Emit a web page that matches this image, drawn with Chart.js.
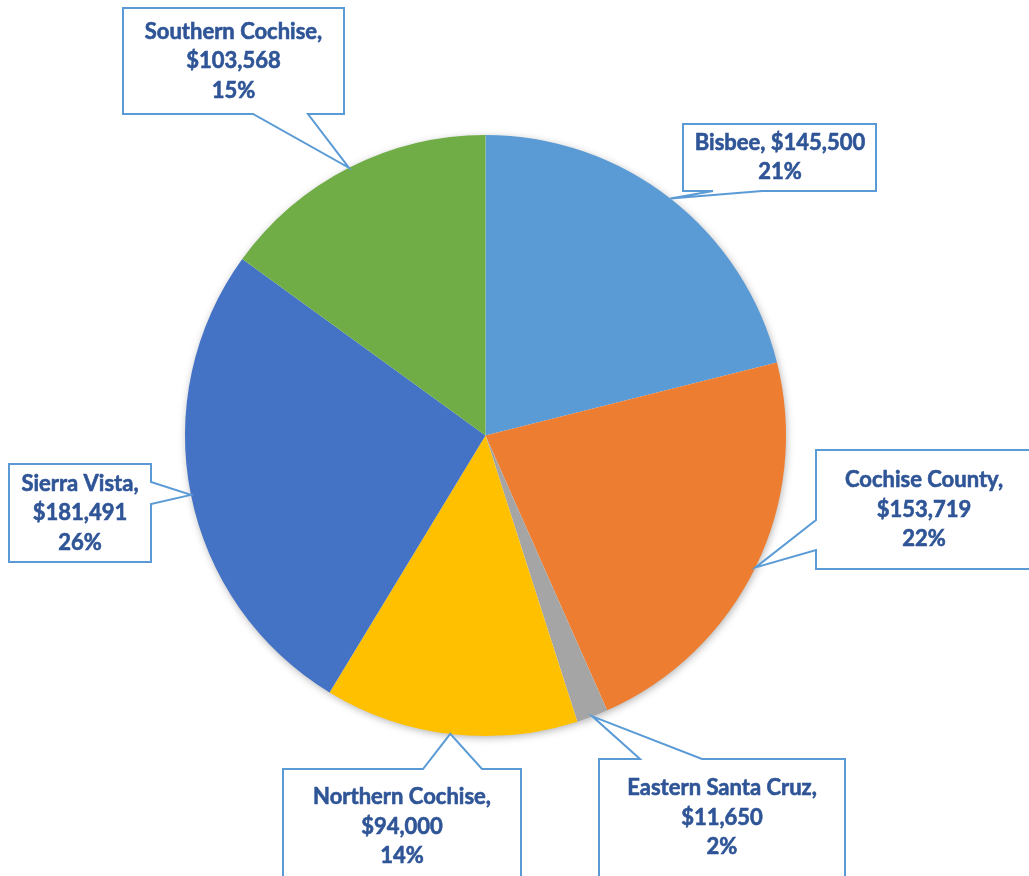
<!DOCTYPE html>
<html>
<head>
<meta charset="utf-8">
<script src="https://cdn.jsdelivr.net/npm/chart.js@4"></script>
<style>
  html, body { margin: 0; padding: 0; background: #fff; }
  #wrap { width: 1029px; height: 876px; position: relative; }
</style>
</head>
<body>
<div id="wrap"><canvas id="myChart" width="1029" height="876"></canvas></div>
<script>
const regions = ['Bisbee', 'Cochise County', 'Eastern Santa Cruz', 'Northern Cochise', 'Sierra Vista', 'Southern Cochise'];
const amounts = [145500, 153719, 11650, 94000, 181491, 103568];
const sliceColors = ['#5B9BD5', '#ED7D31', '#A5A5A5', '#FFC000', '#4472C4', '#70AD47'];

// callout boxes: [left, top, right, bottom], side the pointer leaves from, pointer base
const callouts = [
    {box: [683, 124, 876, 191], side: 'bottom', base: [713, 762], lines: 2, tx: 780},
    {box: [816, 450, 1040, 569], side: 'left', base: [520, 550], lines: 3, tx: 924},
    {box: [599, 759, 845, 890], side: 'top', base: [640, 702], lines: 3, top: 788},
    {box: [283, 769, 521, 890], side: 'top', base: [423, 482], lines: 3, top: 797},
    {box: [9, 464, 151, 562], side: 'right', base: [482, 504], lines: 3},
    {box: [123, 8, 344, 114], side: 'bottom', base: [253, 308], lines: 3}
];

const fmtMoney = (v) => '$' + v.toLocaleString('en-US');

const calloutPlugin = {
    id: 'callouts',
    beforeDatasetsDraw(chart) {
        const arc = chart.getDatasetMeta(0).data[0];
        const ctx = chart.ctx;
        ctx.save();
        ctx.shadowColor = 'rgba(0,0,0,0.35)';
        ctx.shadowBlur = 9;
        ctx.shadowOffsetX = 1;
        ctx.shadowOffsetY = 2;
        ctx.fillStyle = '#ffffff';
        ctx.beginPath();
        ctx.arc(arc.x, arc.y, arc.outerRadius - 1, 0, Math.PI * 2);
        ctx.fill();
        ctx.restore();
    },
    afterDatasetsDraw(chart) {
        const ctx = chart.ctx;
        const meta = chart.getDatasetMeta(0);
        const total = amounts.reduce((a, b) => a + b, 0);
        meta.data.forEach((el, i) => {
            const c = callouts[i];
            const mid = (el.startAngle + el.endAngle) / 2;
            const tx = el.x + Math.cos(mid) * el.outerRadius;
            const ty = el.y + Math.sin(mid) * el.outerRadius;
            const [l, t, r, b] = c.box;
            ctx.save();
            ctx.beginPath();
            ctx.moveTo(l, t);
            if (c.side === 'top') {
                ctx.lineTo(c.base[0], t); ctx.lineTo(tx, ty); ctx.lineTo(c.base[1], t);
            }
            ctx.lineTo(r, t);
            if (c.side === 'right') {
                ctx.lineTo(r, c.base[0]); ctx.lineTo(tx, ty); ctx.lineTo(r, c.base[1]);
            }
            ctx.lineTo(r, b);
            if (c.side === 'bottom') {
                ctx.lineTo(c.base[1], b); ctx.lineTo(tx, ty); ctx.lineTo(c.base[0], b);
            }
            ctx.lineTo(l, b);
            if (c.side === 'left') {
                ctx.lineTo(l, c.base[1]); ctx.lineTo(tx, ty); ctx.lineTo(l, c.base[0]);
            }
            ctx.closePath();
            ctx.fillStyle = '#ffffff';
            ctx.fill();
            ctx.strokeStyle = '#5B9BD5';
            ctx.lineWidth = 2;
            ctx.stroke();

            const pct = Math.round(amounts[i] / total * 100) + '%';
            let lines;
            if (c.lines === 2) {
                lines = [regions[i] + ', ' + fmtMoney(amounts[i]), pct];
            } else {
                lines = [regions[i] + ',', fmtMoney(amounts[i]), pct];
            }
            ctx.fillStyle = '#2F5597';
            ctx.strokeStyle = '#2F5597';
            ctx.lineWidth = 0.6;
            ctx.font = 'bold 22px Lato';
            ctx.textAlign = 'center';
            ctx.textBaseline = 'middle';
            const lh = 29.5;
            const firstY = c.top || ((t + b) / 2 - (lines.length - 1) * lh / 2);
            const centerX = c.tx || (l + r) / 2;
            lines.forEach((s, k) => {
                ctx.fillText(s, centerX, firstY + k * lh);
                ctx.strokeText(s, centerX, firstY + k * lh);
            });
            ctx.restore();
        });
    }
};

const ctxP = document.getElementById('myChart').getContext('2d');
const myPieChart = new Chart(ctxP, {
    type: 'pie',
    data: {
        labels: regions,
        datasets: [{
            data: amounts,
            backgroundColor: sliceColors,
            borderWidth: 0
        }]
    },
    options: {
        responsive: false,
        animation: false,
        layout: {padding: {left: 183, right: 241, top: 135, bottom: 140}},
        plugins: {
            legend: {display: false},
            tooltip: {enabled: false}
        }
    },
    plugins: [calloutPlugin]
});
</script>
</body>
</html>
